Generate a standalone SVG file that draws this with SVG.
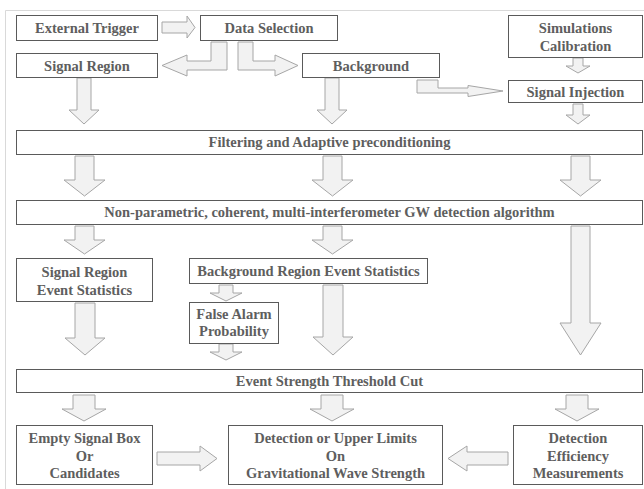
<svg xmlns="http://www.w3.org/2000/svg" width="644" height="489" viewBox="0 0 644 489">
<style>
.frame{fill:none;stroke:#d9d9d9;stroke-width:1}
.box{fill:#ffffff;stroke:#5a5a5a;stroke-width:1}
.arr{fill:#f2f2f2;stroke:#a6a6a6;stroke-width:1;stroke-linejoin:miter}
text{font-family:"Liberation Serif","Times New Roman",serif;font-weight:700;font-size:14.5px;fill:#5e5e5e;text-anchor:middle}
</style>
<rect width="644" height="489" fill="#ffffff"/>
<path class="frame" d="M5.5,489 V10.5 H644"/>
<g id="connectors">
  <polygon class="arr" points="162,22 187,22 187,16 195,27.5 187,38 187,33 162,33"/>
  <polygon class="arr" points="211,42 227,42 227,70 187,70 187,76 162,65.5 187,55 187,61 211,61"/>
  <polygon class="arr" points="238,42 253,42 253,61 275,61 275,55 298,65.5 275,76 275,70 238,70"/>
  <polygon class="arr" points="417,80 438,80 438,88 468,88 468,85.5 503,91 468,96.5 468,93 417,93"/>
  <polygon class="arr" points="573,58 583,58 583,66 590,66 578,73 566,66 573,66"/>
  <polygon class="arr" points="573,104 583,104 583,115 590,115 578,124 566,115 573,115"/>
  <polygon class="arr" points="77,78 91,78 91,110 99,110 84,124 69,110 77,110"/>
  <polygon class="arr" points="325,78 339,78 339,110 347,110 332,124 317,110 325,110"/>
  <polygon class="arr" points="75,156 94,156 94,180 105,180 84.5,196 64,180 75,180"/>
  <polygon class="arr" points="323,156 342,156 342,180 353,180 332.5,196 312,180 323,180"/>
  <polygon class="arr" points="571,156 590,156 590,180 601,180 580.5,196 560,180 571,180"/>
  <polygon class="arr" points="75,226 94,226 94,240 105,240 84.5,254 64,240 75,240"/>
  <polygon class="arr" points="323,226 342,226 342,240 353,240 332.5,254 312,240 323,240"/>
  <polygon class="arr" points="571,226 590,226 590,323 601,323 580.5,355 560,323 571,323"/>
  <polygon class="arr" points="75,303 95,303 95,338 105,338 85,355 65,338 75,338"/>
  <polygon class="arr" points="323,285 343,285 343,337 353,337 333,355 313,337 323,337"/>
  <polygon class="arr" points="219,285 233,285 233,293 242,293 226,301 210,293 219,293"/>
  <polygon class="arr" points="219,344 233,344 233,352 242,352 226,360 210,352 219,352"/>
  <polygon class="arr" points="73,395 95,395 95,409 106,409 84,421 62,409 73,409"/>
  <polygon class="arr" points="321,395 343,395 343,409 354,409 332,421 310,409 321,409"/>
  <polygon class="arr" points="566,395 588,395 588,409 599,409 577,421 555,409 566,409"/>
  <polygon class="arr" points="157,452 200,452 200,446 217,458.5 200,471 200,465 157,465"/>
  <polygon class="arr" points="508,452 467,452 467,446 448,458.5 467,471 467,465 508,465"/>
</g>
<g id="external-trigger"><rect class="box" x="16.5" y="15.5" width="141" height="25"/><text x="87" y="32.5">External Trigger</text></g>
<g id="data-selection"><rect class="box" x="200.5" y="15.5" width="137" height="25"/><text x="269" y="32.5">Data Selection</text></g>
<g id="simulations-calibration"><rect class="box" x="508.5" y="15.5" width="134" height="42"/><text x="575.5" y="33">Simulations</text><text x="575.5" y="51">Calibration</text></g>
<g id="signal-region"><rect class="box" x="16.5" y="53.5" width="141" height="24"/><text x="87" y="70.5">Signal Region</text></g>
<g id="background"><rect class="box" x="302.5" y="53.5" width="137" height="24"/><text x="371" y="70.5">Background</text></g>
<g id="signal-injection"><rect class="box" x="508.5" y="80.5" width="134" height="22"/><text x="575.5" y="96.5">Signal Injection</text></g>
<g id="filtering"><rect class="box" x="16.5" y="130.5" width="626" height="24"/><text x="329.5" y="147">Filtering and Adaptive preconditioning</text></g>
<g id="detection-algorithm"><rect class="box" x="16.5" y="200.5" width="626" height="24"/><text x="329.5" y="217">Non-parametric, coherent, multi-interferometer GW detection algorithm</text></g>
<g id="signal-region-stats"><rect class="box" x="16.5" y="258.5" width="136" height="43"/><text x="84.5" y="276.5">Signal Region</text><text x="84.5" y="294.5">Event Statistics</text></g>
<g id="background-region-stats"><rect class="box" x="189.5" y="258.5" width="238" height="25"/><text x="308.5" y="276">Background Region Event Statistics</text></g>
<g id="false-alarm"><rect class="box" x="189.5" y="302.5" width="89" height="41"/><text x="234" y="319">False Alarm</text><text x="234" y="336">Probability</text></g>
<g id="event-strength-cut"><rect class="box" x="16.5" y="369.5" width="626" height="23"/><text x="329.5" y="385.5">Event Strength Threshold Cut</text></g>
<g id="empty-signal-box"><rect class="box" x="16.5" y="425.5" width="136" height="59"/><text x="84.5" y="443">Empty Signal Box</text><text x="84.5" y="460.5">Or</text><text x="84.5" y="478">Candidates</text></g>
<g id="upper-limits"><rect class="box" x="228.5" y="425.5" width="214" height="59"/><text x="335.5" y="443">Detection or Upper Limits</text><text x="335.5" y="460.5">On</text><text x="335.5" y="478">Gravitational Wave Strength</text></g>
<g id="detection-efficiency"><rect class="box" x="513.5" y="425.5" width="129" height="59"/><text x="578" y="443">Detection</text><text x="578" y="460.5">Efficiency</text><text x="578" y="478">Measurements</text></g>
</svg>
